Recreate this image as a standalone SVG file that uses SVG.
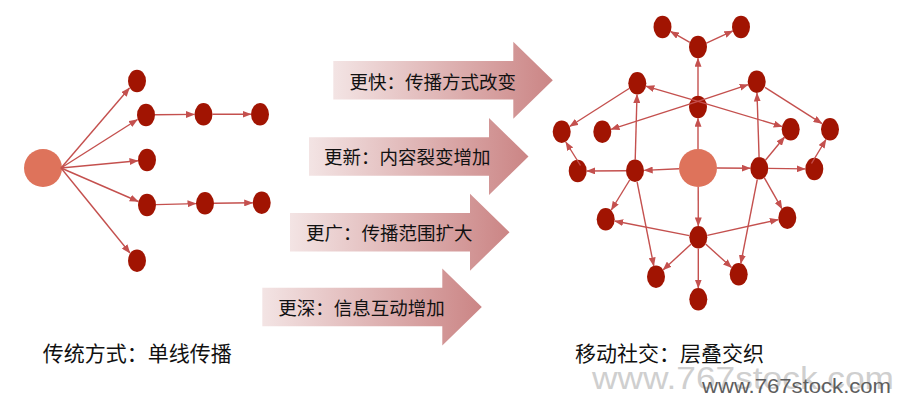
<svg xmlns="http://www.w3.org/2000/svg" width="902" height="405" viewBox="0 0 902 405">
<defs>
  <linearGradient id="bg" x1="0" y1="0" x2="1" y2="0">
    <stop offset="0" stop-color="#f3e4e4"/>
    <stop offset="1" stop-color="#cb8585"/>
  </linearGradient>
  <marker id="ah" markerUnits="userSpaceOnUse" markerWidth="9" markerHeight="7" refX="8.5" refY="3.5" orient="auto" viewBox="0 0 9 7">
    <path d="M0,0 L9,3.5 L0,7 z" fill="#c4504e"/>
  </marker>
  <path id="barrow" d="M0,-19.3 L180,-19.3 L180,-38.5 L219.5,0 L180,38.5 L180,19.3 L0,19.3 z"/>
</defs>
<style>
  .n { fill: #a11402; }
  .big { fill: #de735b; }
  .c line { stroke: #c4504e; stroke-width: 1.4; marker-end: url(#ah); }
  .bt { font-family: "Noto Sans CJK SC", "Liberation Sans", sans-serif; font-size: 18.5px; fill: #111; }
  .lbl { font-family: "Noto Sans CJK SC", "Liberation Sans", sans-serif; font-size: 21px; fill: #111; }
  .ba { fill: url(#bg); }
</style>

<rect width="902" height="405" fill="#fff"/>

<!-- block arrows -->
<g id="arrow1"><use href="#barrow" class="ba" transform="translate(333.3,80.3)"/><text class="bt" x="349.5" y="88.5">更快：传播方式改变</text></g>
<g id="arrow2"><use href="#barrow" class="ba" transform="translate(309,156.5)"/><text class="bt" x="324" y="164">更新：内容裂变增加</text></g>
<g id="arrow3"><use href="#barrow" class="ba" transform="translate(290,232.2)"/><text class="bt" x="306" y="239.8">更广：传播范围扩大</text></g>
<g id="arrow4"><use href="#barrow" class="ba" transform="translate(262.3,307)"/><text class="bt" x="278.3" y="314.8">更深：信息互动增加</text></g>

<!-- left network nodes -->
<g id="left-network">
  <circle id="lsrc" class="big" cx="43" cy="168" r="19"/>
  <ellipse id="la" class="n" cx="137" cy="81" rx="9" ry="11.2"/>
  <ellipse id="lb" class="n" cx="146" cy="115" rx="9" ry="11.2"/>
  <ellipse id="lc" class="n" cx="203.5" cy="114.3" rx="9" ry="11.2"/>
  <ellipse id="ld" class="n" cx="260" cy="114.3" rx="9" ry="11.2"/>
  <ellipse id="le" class="n" cx="147" cy="160" rx="9" ry="11.2"/>
  <ellipse id="lf" class="n" cx="147" cy="205" rx="9" ry="11.2"/>
  <ellipse id="lg" class="n" cx="205" cy="203.3" rx="9" ry="11.2"/>
  <ellipse id="lh" class="n" cx="261.7" cy="202.7" rx="9" ry="11.2"/>
  <ellipse id="li" class="n" cx="137" cy="260.7" rx="9" ry="11.2"/>
</g>

<!-- right network nodes -->
<g id="right-network">
  <circle id="rc" class="big" cx="698" cy="168" r="19"/>
  <ellipse id="rt" class="n" cx="698" cy="47" rx="9" ry="11.2"/>
  <ellipse id="rtl" class="n" cx="662.5" cy="27" rx="9" ry="11.2"/>
  <ellipse id="rtr" class="n" cx="741" cy="27" rx="9" ry="11.2"/>
  <ellipse id="rm1" class="n" cx="698" cy="107" rx="9" ry="11.2"/>
  <ellipse id="rul" class="n" cx="637.3" cy="83.3" rx="9" ry="11.2"/>
  <ellipse id="rur" class="n" cx="756.7" cy="81.7" rx="9" ry="11.2"/>
  <ellipse id="rfl" class="n" cx="561.7" cy="131.7" rx="9" ry="11.2"/>
  <ellipse id="rl2" class="n" cx="602.3" cy="131.7" rx="9" ry="11.2"/>
  <ellipse id="rr2" class="n" cx="790.7" cy="129.3" rx="9" ry="11.2"/>
  <ellipse id="rfr" class="n" cx="830" cy="129.3" rx="9" ry="11.2"/>
  <ellipse id="rls" class="n" cx="577.7" cy="171" rx="9" ry="11.2"/>
  <ellipse id="ril" class="n" cx="635" cy="170.7" rx="9" ry="11.2"/>
  <ellipse id="rir" class="n" cx="759.3" cy="168.3" rx="9" ry="11.2"/>
  <ellipse id="rrs" class="n" cx="814.3" cy="169" rx="9" ry="11.2"/>
  <ellipse id="rll" class="n" cx="605.7" cy="219.3" rx="9" ry="11.2"/>
  <ellipse id="rlr" class="n" cx="787.3" cy="217.7" rx="9" ry="11.2"/>
  <ellipse id="rlm" class="n" cx="698.3" cy="237.3" rx="9" ry="11.2"/>
  <ellipse id="rll2" class="n" cx="656" cy="276.7" rx="9" ry="11.2"/>
  <ellipse id="rlr2" class="n" cx="738.7" cy="274.3" rx="9" ry="11.2"/>
  <ellipse id="rb" class="n" cx="698.3" cy="299.3" rx="9" ry="11.2"/>
</g>

<!-- connectors -->
<g id="connectors" class="c">
  <!-- left -->
  <line x1="61" y1="168" x2="129.5" y2="88"/>
  <line x1="61" y1="168" x2="137.5" y2="119.5"/>
  <line x1="61" y1="168" x2="138" y2="160.8"/>
  <line x1="61" y1="168" x2="138.3" y2="201.5"/>
  <line x1="61" y1="168" x2="130" y2="253"/>
  <line x1="155" y1="114.8" x2="194.5" y2="114.4"/>
  <line x1="212.5" y1="114.3" x2="251" y2="114.3"/>
  <line x1="156" y1="204.6" x2="196" y2="203.6"/>
  <line x1="214" y1="203.2" x2="252.7" y2="202.8"/>
  <!-- right -->
  <line x1="689.8" y1="42.4" x2="670.5" y2="31.4"/>
  <line x1="706.4" y1="43.1" x2="732.8" y2="30.9"/>
  <line x1="698" y1="96" x2="698" y2="58.2"/>
  <line x1="698" y1="149" x2="698" y2="118.2"/>
  <line x1="698" y1="101.3" x2="645.8" y2="86.2"/>
  <line x1="698" y1="101.3" x2="782.2" y2="126.6"/>
  <line x1="698" y1="101.3" x2="611" y2="129.3"/>
  <line x1="698" y1="101.3" x2="748.2" y2="84.6"/>
  <line x1="629.1" y1="88.5" x2="569.6" y2="126.5"/>
  <line x1="765" y1="87.3" x2="822" y2="123.6"/>
  <line x1="635.2" y1="160" x2="637" y2="94.5"/>
  <line x1="759.1" y1="157.5" x2="757" y2="93"/>
  <line x1="765.4" y1="160.3" x2="784.6" y2="137"/>
  <line x1="811.5" y1="163.5" x2="826" y2="139.5"/>
  <line x1="580.5" y1="165.5" x2="565.8" y2="142"/>
  <line x1="679" y1="168.8" x2="644.2" y2="170.4"/>
  <line x1="717" y1="168" x2="750.2" y2="168.2"/>
  <line x1="626" y1="170.8" x2="586.8" y2="171"/>
  <line x1="768.3" y1="168.4" x2="805.2" y2="168.9"/>
  <line x1="629.7" y1="180" x2="611.3" y2="210"/>
  <line x1="637.1" y1="181.8" x2="653.8" y2="266"/>
  <line x1="764.1" y1="177.3" x2="782" y2="208.8"/>
  <line x1="757.3" y1="179.3" x2="740.8" y2="263.5"/>
  <line x1="698.2" y1="187" x2="698.3" y2="226"/>
  <line x1="689.3" y1="235.6" x2="614.7" y2="221"/>
  <line x1="707.3" y1="235.4" x2="778.4" y2="219.6"/>
  <line x1="691.2" y1="244" x2="663" y2="270"/>
  <line x1="705.6" y1="243.9" x2="731.6" y2="267.6"/>
  <line x1="698.3" y1="248.5" x2="698.3" y2="288"/>
</g>

<!-- labels -->
<text id="label-left" class="lbl" x="42.7" y="360.5">传统方式：单线传播</text>
<text id="label-right" class="lbl" x="575" y="361">移动社交：层叠交织</text>

<!-- watermarks -->
<text x="592" y="389" font-family="Liberation Sans, sans-serif" font-size="31" fill="#cfcfcf" textLength="302" lengthAdjust="spacingAndGlyphs">www.767stock.com</text>
<text x="702" y="393" font-family="Liberation Sans, sans-serif" font-size="21" fill="#5e5e5e" textLength="189" lengthAdjust="spacingAndGlyphs">www.767stock.com</text>
</svg>
